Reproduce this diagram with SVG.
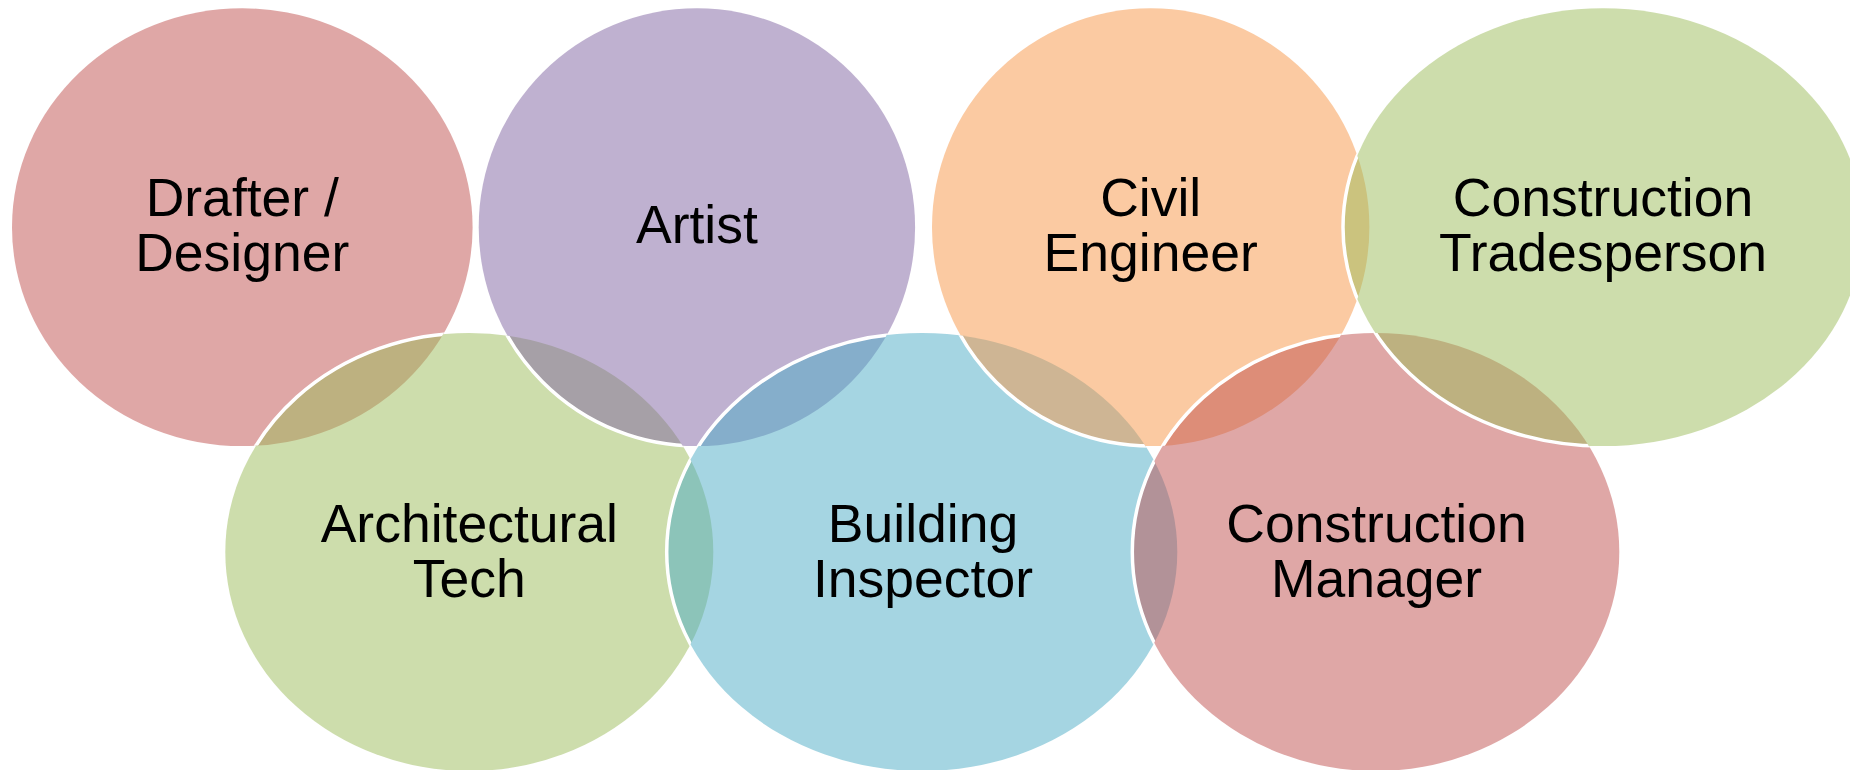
<svg xmlns="http://www.w3.org/2000/svg" width="1850" height="770" viewBox="0 0 1850 770">
  <style>
    .red { fill: #C0504D; fill-opacity: 0.5; }
    .green { fill: #9BBB59; fill-opacity: 0.5; }
    .purple { fill: #8064A2; fill-opacity: 0.5; }
    .blue { fill: #4BACC6; fill-opacity: 0.5; }
    .orange { fill: #F79646; fill-opacity: 0.5; }
    .ring { fill: none; stroke: #FFFFFF; stroke-width: 3.5; }
    .label { font-family: "Liberation Sans", Arial, sans-serif; font-size: 53.5px; fill: #000000; text-anchor: middle; }
  </style>
  <defs>
    <ellipse id="e-drafter" cx="242.3" cy="227.2" rx="230.3" ry="218.9"/>
    <ellipse id="e-artist" cx="696.9" cy="227.2" rx="218.2" ry="218.9"/>
    <ellipse id="e-civil" cx="1150.7" cy="227.2" rx="218.7" ry="218.9"/>
    <ellipse id="e-trades" cx="1603" cy="227.2" rx="260" ry="218.9"/>
    <ellipse id="e-arch" cx="469.3" cy="552" rx="244" ry="219"/>
    <ellipse id="e-inspector" cx="922" cy="552" rx="255.3" ry="219"/>
    <ellipse id="e-manager" cx="1375.8" cy="552" rx="243.5" ry="219"/>
    <clipPath id="c-drafter"><use href="#e-drafter"/></clipPath>
    <clipPath id="c-arch"><use href="#e-arch"/></clipPath>
    <clipPath id="c-arch-artist"><use href="#e-arch"/><use href="#e-artist"/></clipPath>
    <clipPath id="c-inspector"><use href="#e-inspector"/></clipPath>
    <clipPath id="c-civil-inspector"><use href="#e-civil"/><use href="#e-inspector"/></clipPath>
    <clipPath id="c-civil-manager"><use href="#e-civil"/><use href="#e-manager"/></clipPath>
  </defs>
  <rect x="0" y="0" width="1850" height="770" fill="#FFFFFF"/>

  <g id="node-drafter">
    <use href="#e-drafter" class="red"/>
    <text class="label" x="242.3" y="216">Drafter /</text>
    <text class="label" x="242.3" y="271">Designer</text>
  </g>

  <g id="node-architectural-tech">
    <use href="#e-arch" class="green"/>
    <use href="#e-arch" class="ring" clip-path="url(#c-drafter)"/>
    <text class="label" x="469.3" y="542">Architectural</text>
    <text class="label" x="469.3" y="597">Tech</text>
  </g>

  <g id="node-artist">
    <use href="#e-artist" class="purple"/>
    <use href="#e-artist" class="ring" clip-path="url(#c-arch)"/>
    <text class="label" x="696.9" y="243">Artist</text>
  </g>

  <g id="node-building-inspector">
    <use href="#e-inspector" class="blue"/>
    <use href="#e-inspector" class="ring" clip-path="url(#c-arch-artist)"/>
    <text class="label" x="923" y="542">Building</text>
    <text class="label" x="923" y="597">Inspector</text>
  </g>

  <g id="node-civil-engineer">
    <use href="#e-civil" class="orange"/>
    <use href="#e-civil" class="ring" clip-path="url(#c-inspector)"/>
    <text class="label" x="1150.7" y="216">Civil</text>
    <text class="label" x="1150.7" y="271">Engineer</text>
  </g>

  <g id="node-construction-manager">
    <use href="#e-manager" class="red"/>
    <use href="#e-manager" class="ring" clip-path="url(#c-civil-inspector)"/>
    <text class="label" x="1376.5" y="542">Construction</text>
    <text class="label" x="1376.5" y="597">Manager</text>
  </g>

  <g id="node-construction-tradesperson">
    <use href="#e-trades" class="green"/>
    <use href="#e-trades" class="ring" clip-path="url(#c-civil-manager)"/>
    <text class="label" x="1603" y="216">Construction</text>
    <text class="label" x="1603" y="271">Tradesperson</text>
  </g>

  <g id="connectors"></g>
</svg>
